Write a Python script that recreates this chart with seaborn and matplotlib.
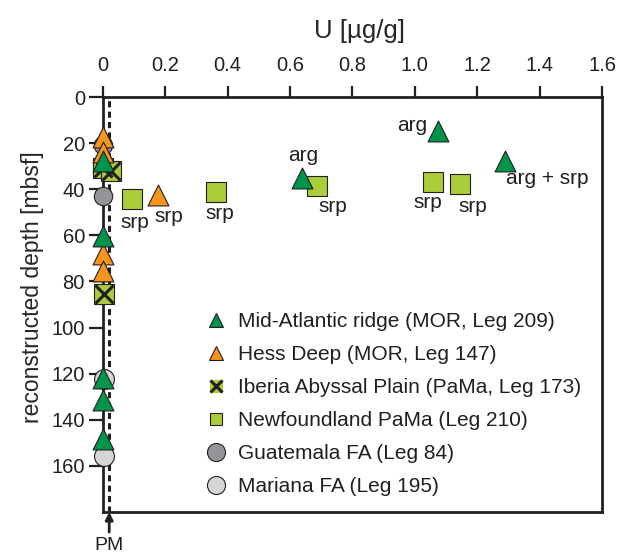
import matplotlib
matplotlib.use("Agg")
import matplotlib.pyplot as plt
import seaborn as sns
from matplotlib.lines import Line2D

# ── data (U in µg/g, reconstructed depth in mbsf) ────────────────────────────
mar_u = [0.0, 0.0, 0.0, 0.0, 0.0, 0.637, 1.075, 1.29]
mar_depth = [27.6, 60.5, 121.8, 131.5, 148.5, 35.2, 14.6, 27.7]

hess_u = [0.0, 0.0, 0.175, 0.0, 0.0]
hess_depth = [17.2, 23.7, 42.4, 68.0, 75.6]

iberia_u = [0.0, 0.026, 0.003]
iberia_depth = [31.0, 32.0, 85.3]

newf_u = [0.094, 0.362, 0.687, 1.059, 1.145]
newf_depth = [44.3, 41.4, 38.5, 36.7, 37.7]

guat_u = [0.0, 0.0]
guat_depth = [20.8, 43.1]

mariana_u = [0.004, 0.003]
mariana_depth = [122.5, 155.7]

PM_U = 0.02

note_text = ["arg", "arg", "srp", "srp", "srp", "srp", "srp", "srp", "arg + srp"]
note_u = [1.075, 0.637, 0.687, 0.094, 0.175, 0.362, 1.059, 1.145, 1.29]
note_depth = [14.6, 35.2, 38.5, 44.3, 42.4, 41.4, 36.7, 37.7, 27.7]
note_offset = [(-19, 4), (1, 16), (11, -15), (1.5, -17), (8, -16),
               (3, -15), (-4, -15), (9.5, -16), (30, -13)]

x_ticks = [0, 0.2, 0.4, 0.6, 0.8, 1.0, 1.2, 1.4, 1.6]
x_ticklabels = ["0", "0.2", "0.4", "0.6", "0.8", "1.0", "1.2", "1.4", "1.6"]
y_ticks = [0, 20, 40, 60, 80, 100, 120, 140, 160]

# ── colours ─────────────────────────────────────────────────────────────────
GREEN = "#00954A"
ORANGE = "#F7941E"
LIME = "#AACD39"
DGRAY = "#939598"
LGRAY = "#D4D5D6"
EDGE = "#231F20"

sns.set_theme(style="ticks")
plt.rcParams["font.family"] = ["Liberation Sans", "DejaVu Sans"]
plt.rcParams["text.color"] = "#231F20"

fig = plt.figure(figsize=(6.17, 5.54), dpi=100)
ax = fig.add_axes([0.1669, 0.0758, 0.8088, 0.7491])

common = dict(ax=ax, edgecolor=EDGE, linewidth=0.8, clip_on=False, legend=False, zorder=3)
sns.scatterplot(x=guat_u, y=guat_depth, marker="o", s=175, color=DGRAY, **common)
sns.scatterplot(x=mariana_u, y=mariana_depth, marker="o", s=205, color=LGRAY, **common)
sns.scatterplot(x=newf_u, y=newf_depth, marker="s", s=205, color=LIME, **common)
sns.scatterplot(x=iberia_u, y=iberia_depth, marker="s", s=190, color=LIME, **common)
sns.scatterplot(x=iberia_u, y=iberia_depth, marker="x", s=170, color=EDGE,
                linewidth=2.2, clip_on=False, legend=False, zorder=3, ax=ax)
sns.scatterplot(x=hess_u, y=hess_depth, marker="^", s=225, color=ORANGE, **common)
sns.scatterplot(x=mar_u, y=mar_depth, marker="^", s=225, color=GREEN, **common)

for txt, u, d, off in zip(note_text, note_u, note_depth, note_offset):
    ax.annotate(txt, xy=(u, d), xytext=off, textcoords="offset points",
                ha="center", va="center", fontsize=15)

# primitive mantle reference line
ax.axvline(PM_U, color=EDGE, lw=2.2, ls=(0, (2, 1.4)), zorder=2)
ax.annotate("PM", xy=(PM_U, 0), xycoords=("data", "axes fraction"),
            xytext=(0, -24), textcoords="offset points", ha="center", va="center",
            fontsize=14,
            arrowprops=dict(arrowstyle="-|>", color=EDGE, lw=2.0,
                            mutation_scale=11, shrinkA=1, shrinkB=0))

ax.set_xlim(0, 1.6)
ax.set_ylim(180, 0)
ax.xaxis.tick_top()
ax.xaxis.set_label_position("top")
ax.set_xticks(x_ticks)
ax.set_xticklabels(x_ticklabels)
ax.set_yticks(y_ticks)
ax.tick_params(axis="both", direction="out", width=1.6,
               colors=EDGE, labelsize=14.5)
ax.tick_params(axis="x", length=8, pad=8)
ax.tick_params(axis="y", length=10, pad=3)
ax.set_xlabel("U [µg/g]", fontsize=18.5)
ax.set_ylabel("reconstructed depth [mbsf]", fontsize=16.5)
ax.xaxis.set_label_coords(0.515, 1.142)
ax.yaxis.set_label_coords(-0.118, 0.542)

for sp in ax.spines.values():
    sp.set_visible(True)
    sp.set_linewidth(2.0)
    sp.set_color(EDGE)

handles = [
    Line2D([], [], ls="none", marker="^", ms=10, mfc=GREEN, mec=EDGE, mew=0.8),
    Line2D([], [], ls="none", marker="^", ms=10, mfc=ORANGE, mec=EDGE, mew=0.8),
    (Line2D([], [], ls="none", marker="s", ms=9, mfc=LIME, mec=LIME, mew=0.8),
     Line2D([], [], ls="none", marker="x", ms=9, mec=EDGE, mew=2.2)),
    Line2D([], [], ls="none", marker="s", ms=9, mfc=LIME, mec=EDGE, mew=0.8),
    Line2D([], [], ls="none", marker="o", ms=13, mfc=DGRAY, mec=EDGE, mew=0.8),
    Line2D([], [], ls="none", marker="o", ms=13, mfc=LGRAY, mec=EDGE, mew=0.8),
]
labels = [
    "Mid-Atlantic ridge (MOR, Leg 209)",
    "Hess Deep (MOR, Leg 147)",
    "Iberia Abyssal Plain (PaMa, Leg 173)",
    "Newfoundland PaMa (Leg 210)",
    "Guatemala FA (Leg 84)",
    "Mariana FA (Leg 195)",
]
fig.legend(handles, labels, loc="upper left", bbox_to_anchor=(0.3332, 0.4368),
           frameon=False, fontsize=15, handlelength=1.0, handletextpad=0.56,
           labelspacing=0.67, borderpad=0, borderaxespad=0)

fig.savefig("out.png", dpi=100)
